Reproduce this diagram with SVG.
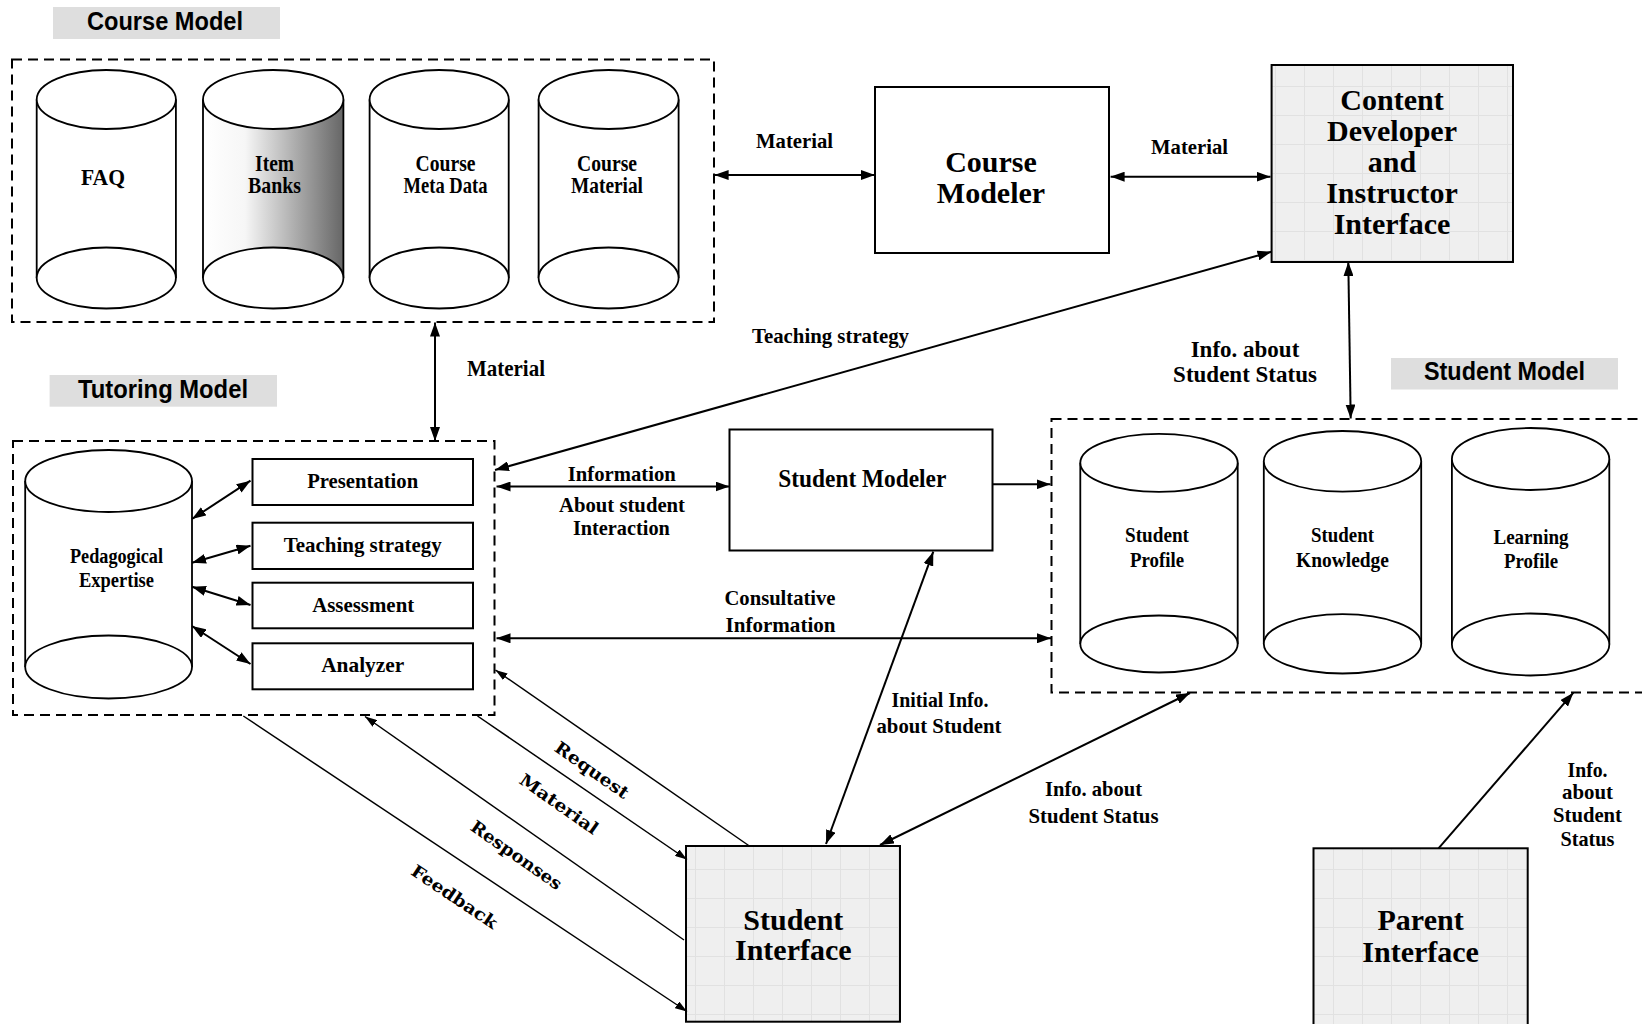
<svg xmlns="http://www.w3.org/2000/svg" width="1642" height="1024" viewBox="0 0 1642 1024">
<style>
.dash{fill:none;stroke:#000;stroke-width:2;stroke-dasharray:10 6}
.box{fill:#fff;stroke:#000;stroke-width:2}
.gbox{fill:url(#grid);stroke:#000;stroke-width:2}
.cyl{fill:#fff;stroke:#000;stroke-width:1.8}
.side{stroke:#000;stroke-width:1.8;fill:none}
.lbl{fill:#dedede}
.hd{font-family:"Liberation Sans",Arial,sans-serif;font-weight:bold;font-size:25px;text-anchor:middle;fill:#000}
.t{font-family:"Liberation Serif","Times New Roman",serif;font-weight:bold;text-anchor:middle;fill:#000}
.big{font-size:30px}
.m{font-size:22px}
.s{font-size:21px}
.conn line{stroke:#000;stroke-width:2;fill:none}
.conn line.thin{stroke-width:1.5}
.rot{font-family:"DejaVu Serif",serif;font-weight:bold;font-size:17px;text-anchor:middle;fill:#000}
</style>
<defs>
<marker id="ah" viewBox="0 0 14 10" refX="14" refY="5" markerWidth="14" markerHeight="10" markerUnits="userSpaceOnUse" orient="auto-start-reverse"><path d="M0,0 L14,5 L0,10 z" fill="#000"/></marker>
<marker id="as" viewBox="0 0 12 8" refX="12" refY="4" markerWidth="12" markerHeight="8" markerUnits="userSpaceOnUse" orient="auto-start-reverse"><path d="M0,0 L12,4 L0,8 z" fill="#000"/></marker>
<pattern id="grid" width="29" height="29" patternUnits="userSpaceOnUse"><rect width="29" height="29" fill="#efefef"/><path d="M28.5,0 V29 M0,28.5 H29" stroke="#e1e1e1" stroke-width="1" fill="none"/></pattern>
<linearGradient id="shade" x1="0" y1="0" x2="1" y2="0"><stop offset="0" stop-color="#ffffff"/><stop offset="0.3" stop-color="#f6f6f6"/><stop offset="1" stop-color="#666666"/></linearGradient>
</defs>
<rect width="1642" height="1024" fill="#fff"/>

<!-- Course Model -->
<g id="course-model">
<rect class="lbl" x="53" y="7" width="227" height="32"/>
<text class="hd" x="165" y="30" textLength="156" lengthAdjust="spacingAndGlyphs">Course Model</text>
<rect class="dash" x="12" y="59.5" width="702" height="262.5"/>
</g>
<g id="faq">
<rect x="36.7" y="99.5" width="139.2" height="178.5" fill="#fff"/>
<path class="side" d="M36.7,99.5 V278 M175.9,99.5 V278"/>
<ellipse class="cyl" cx="106.3" cy="99.5" rx="69.6" ry="29.5"/>
<ellipse class="cyl" cx="106.3" cy="278" rx="69.6" ry="30.5"/>
<text class="t" x="103" y="185" font-size="24" textLength="44" lengthAdjust="spacingAndGlyphs">FAQ</text>
</g>
<g id="item-banks">
<rect x="203" y="99.5" width="140.4" height="178.5" fill="url(#shade)"/>
<path class="side" d="M203,99.5 V278 M343.4,99.5 V278"/>
<ellipse class="cyl" cx="273.2" cy="99.5" rx="70.2" ry="29.5"/>
<ellipse class="cyl" cx="273.2" cy="278" rx="70.2" ry="30.5"/>
<text class="t" x="274.6" y="171" font-size="23" textLength="39" lengthAdjust="spacingAndGlyphs">Item</text>
<text class="t" x="274.6" y="193" font-size="23" textLength="53" lengthAdjust="spacingAndGlyphs">Banks</text>
</g>
<g id="course-meta-data">
<rect x="369.6" y="99.5" width="139.1" height="178.5" fill="#fff"/>
<path class="side" d="M369.6,99.5 V278 M508.7,99.5 V278"/>
<ellipse class="cyl" cx="439.2" cy="99.5" rx="69.6" ry="29.5"/>
<ellipse class="cyl" cx="439.2" cy="278" rx="69.6" ry="30.5"/>
<text class="t" x="445.5" y="171" font-size="23" textLength="60" lengthAdjust="spacingAndGlyphs">Course</text>
<text class="t" x="445.5" y="193" font-size="23" textLength="84" lengthAdjust="spacingAndGlyphs">Meta Data</text>
</g>
<g id="course-material">
<rect x="538.6" y="99.5" width="140" height="178.5" fill="#fff"/>
<path class="side" d="M538.6,99.5 V278 M678.6,99.5 V278"/>
<ellipse class="cyl" cx="608.6" cy="99.5" rx="70" ry="29.5"/>
<ellipse class="cyl" cx="608.6" cy="278" rx="70" ry="30.5"/>
<text class="t" x="607" y="171" font-size="23" textLength="60" lengthAdjust="spacingAndGlyphs">Course</text>
<text class="t" x="607" y="193" font-size="23" textLength="72" lengthAdjust="spacingAndGlyphs">Material</text>
</g>

<!-- Course Modeler -->
<g id="course-modeler">
<rect class="box" x="875" y="87" width="234" height="166"/>
<text class="t big" x="991" y="171.7">Course</text>
<text class="t big" x="991" y="203">Modeler</text>
</g>

<!-- Content Developer and Instructor Interface -->
<g id="content-developer">
<rect class="gbox" x="1271.6" y="65" width="241.4" height="197"/>
<text class="t big" x="1392" y="110">Content</text>
<text class="t big" x="1392" y="140.7">Developer</text>
<text class="t big" x="1392" y="171.7">and</text>
<text class="t big" x="1392" y="203">Instructor</text>
<text class="t big" x="1392" y="234">Interface</text>
</g>

<!-- Tutoring Model -->
<g id="tutoring-model">
<rect class="lbl" x="49.6" y="375" width="227.4" height="31.7"/>
<text class="hd" x="163" y="398" textLength="170" lengthAdjust="spacingAndGlyphs">Tutoring Model</text>
<rect class="dash" x="13" y="441" width="481.5" height="274"/>
</g>
<g id="pedagogical-expertise">
<rect x="25.2" y="481" width="166.8" height="186" fill="#fff"/>
<path class="side" d="M25.2,481 V667 M192,481 V667"/>
<ellipse class="cyl" cx="108.6" cy="481" rx="83.4" ry="31"/>
<ellipse class="cyl" cx="108.6" cy="667" rx="83.4" ry="31.5"/>
<text class="t" x="116.5" y="563.3" font-size="20" textLength="93" lengthAdjust="spacingAndGlyphs">Pedagogical</text>
<text class="t" x="116.5" y="586.7" font-size="20" textLength="75" lengthAdjust="spacingAndGlyphs">Expertise</text>
</g>
<g id="presentation">
<rect class="box" x="252.5" y="459" width="220.5" height="46"/>
<text class="t m" x="362.7" y="488.3" textLength="111" lengthAdjust="spacingAndGlyphs">Presentation</text>
</g>
<g id="teaching-strategy">
<rect class="box" x="252.5" y="522.7" width="220.5" height="46.3"/>
<text class="t m" x="362.7" y="551.7" textLength="158" lengthAdjust="spacingAndGlyphs">Teaching strategy</text>
</g>
<g id="assessment">
<rect class="box" x="252.5" y="582.7" width="220.5" height="45.6"/>
<text class="t m" x="363.2" y="611.7" textLength="102" lengthAdjust="spacingAndGlyphs">Assessment</text>
</g>
<g id="analyzer">
<rect class="box" x="252.5" y="643.3" width="220.5" height="46"/>
<text class="t m" x="362.7" y="671.7" textLength="83" lengthAdjust="spacingAndGlyphs">Analyzer</text>
</g>

<!-- Student Modeler -->
<g id="student-modeler">
<rect class="box" x="729.5" y="429.5" width="263" height="121"/>
<text class="t" x="862.3" y="487.3" font-size="26" textLength="168" lengthAdjust="spacingAndGlyphs">Student Modeler</text>
</g>

<!-- Student Model -->
<g id="student-model">
<rect class="lbl" x="1391" y="358" width="227" height="31.5"/>
<text class="hd" x="1504.5" y="380" textLength="161" lengthAdjust="spacingAndGlyphs">Student Model</text>
<rect class="dash" x="1051.5" y="419" width="640" height="273.5"/>
</g>
<g id="student-profile">
<rect x="1080.3" y="462.8" width="157.4" height="181.2" fill="#fff"/>
<path class="side" d="M1080.3,462.8 V644 M1237.7,462.8 V644"/>
<ellipse class="cyl" cx="1159" cy="462.8" rx="78.7" ry="29"/>
<ellipse class="cyl" cx="1159" cy="644" rx="78.7" ry="28.5"/>
<text class="t s" x="1157" y="541.7" textLength="64" lengthAdjust="spacingAndGlyphs">Student</text>
<text class="t s" x="1157" y="566.7" textLength="54" lengthAdjust="spacingAndGlyphs">Profile</text>
</g>
<g id="student-knowledge">
<rect x="1263.8" y="461.3" width="157.4" height="182.5" fill="#fff"/>
<path class="side" d="M1263.8,461.3 V643.8 M1421.2,461.3 V643.8"/>
<ellipse class="cyl" cx="1342.5" cy="461.3" rx="78.7" ry="30.3"/>
<ellipse class="cyl" cx="1342.5" cy="643.8" rx="78.7" ry="29.7"/>
<text class="t s" x="1342.5" y="541.7" textLength="63" lengthAdjust="spacingAndGlyphs">Student</text>
<text class="t s" x="1342.5" y="566.7" textLength="93" lengthAdjust="spacingAndGlyphs">Knowledge</text>
</g>
<g id="learning-profile">
<rect x="1451.9" y="459" width="157.4" height="185.5" fill="#fff"/>
<path class="side" d="M1451.9,459 V644.5 M1609.3,459 V644.5"/>
<ellipse class="cyl" cx="1530.6" cy="459" rx="78.7" ry="31"/>
<ellipse class="cyl" cx="1530.6" cy="644.5" rx="78.7" ry="31"/>
<text class="t s" x="1531" y="544" textLength="75" lengthAdjust="spacingAndGlyphs">Learning</text>
<text class="t s" x="1531" y="568" textLength="54" lengthAdjust="spacingAndGlyphs">Profile</text>
</g>

<!-- Student Interface -->
<g id="student-interface">
<rect class="gbox" x="686" y="846" width="214" height="175.7"/>
<text class="t big" x="793.3" y="930">Student</text>
<text class="t big" x="793.3" y="960">Interface</text>
</g>

<!-- Parent Interface -->
<g id="parent-interface">
<rect class="gbox" x="1313.5" y="848.3" width="214.2" height="190"/>
<text class="t big" x="1420.6" y="930">Parent</text>
<text class="t big" x="1420.6" y="961.7">Interface</text>
</g>

<!-- Connectors -->
<g id="connectors" class="conn">
<line x1="714.6" y1="175" x2="875" y2="175" marker-start="url(#ah)" marker-end="url(#ah)"/>
<line x1="1110.6" y1="176.7" x2="1270.5" y2="176.7" marker-start="url(#ah)" marker-end="url(#ah)"/>
<line x1="435" y1="322.5" x2="435" y2="441" marker-start="url(#ah)" marker-end="url(#ah)"/>
<line x1="495" y1="470" x2="1271.5" y2="251.7" marker-start="url(#ah)" marker-end="url(#ah)"/>
<line x1="1348.3" y1="262" x2="1350.7" y2="418.5" marker-start="url(#ah)" marker-end="url(#ah)"/>
<line x1="496.5" y1="486.5" x2="729.5" y2="486.5" marker-start="url(#ah)" marker-end="url(#ah)"/>
<line x1="992.5" y1="484.3" x2="1050.5" y2="484.3" marker-end="url(#ah)"/>
<line x1="496.5" y1="638.3" x2="1051" y2="638.3" marker-start="url(#ah)" marker-end="url(#ah)"/>
<line x1="933.3" y1="551.7" x2="826" y2="844" marker-start="url(#ah)" marker-end="url(#ah)"/>
<line x1="880" y1="845" x2="1190" y2="693" marker-start="url(#ah)" marker-end="url(#ah)"/>
<line x1="1438.5" y1="848.3" x2="1573.4" y2="692.7" marker-end="url(#ah)"/>
<line x1="192" y1="519" x2="250.5" y2="480.7" marker-start="url(#ah)" marker-end="url(#ah)"/>
<line x1="192" y1="562.7" x2="250.5" y2="545.7" marker-start="url(#ah)" marker-end="url(#ah)"/>
<line x1="192" y1="586.7" x2="250.5" y2="605" marker-start="url(#ah)" marker-end="url(#ah)"/>
<line x1="192" y1="626" x2="250.5" y2="664" marker-start="url(#ah)" marker-end="url(#ah)"/>
<line class="thin" x1="749.4" y1="846" x2="495.5" y2="670" marker-end="url(#as)"/>
<line class="thin" x1="477.5" y1="716" x2="687" y2="859.5" marker-end="url(#as)"/>
<line class="thin" x1="684" y1="940" x2="365" y2="716.5" marker-end="url(#as)"/>
<line class="thin" x1="243.3" y1="716" x2="687" y2="1011.5" marker-end="url(#as)"/>
</g>

<!-- Connector labels -->
<g id="connector-labels">
<text class="t m" x="794.5" y="148" textLength="77" lengthAdjust="spacingAndGlyphs">Material</text>
<text class="t m" x="1189.5" y="154" textLength="77" lengthAdjust="spacingAndGlyphs">Material</text>
<text class="t" x="506" y="376" font-size="23" textLength="78" lengthAdjust="spacingAndGlyphs">Material</text>
<text class="t s" x="830.5" y="343" textLength="157" lengthAdjust="spacingAndGlyphs">Teaching strategy</text>
<text class="t" x="1245" y="356.7" font-size="23">Info. about</text>
<text class="t" x="1245" y="381.7" font-size="23">Student Status</text>
<text class="t m" x="621.8" y="480.7" textLength="108" lengthAdjust="spacingAndGlyphs">Information</text>
<text class="t m" x="622" y="511.7" textLength="126" lengthAdjust="spacingAndGlyphs">About student</text>
<text class="t m" x="621.4" y="535" textLength="97" lengthAdjust="spacingAndGlyphs">Interaction</text>
<text class="t m" x="780" y="605" textLength="111" lengthAdjust="spacingAndGlyphs">Consultative</text>
<text class="t m" x="780.5" y="631.7" textLength="110" lengthAdjust="spacingAndGlyphs">Information</text>
<text class="t m" x="940" y="706.7" textLength="97" lengthAdjust="spacingAndGlyphs">Initial Info.</text>
<text class="t m" x="939" y="733.3" textLength="125" lengthAdjust="spacingAndGlyphs">about Student</text>
<text class="t m" x="1093.5" y="796" textLength="97" lengthAdjust="spacingAndGlyphs">Info. about</text>
<text class="t m" x="1093.5" y="822.7" textLength="130" lengthAdjust="spacingAndGlyphs">Student Status</text>
<text class="t s" x="1587.5" y="776.7" textLength="40" lengthAdjust="spacingAndGlyphs">Info.</text>
<text class="t s" x="1587.5" y="799.3" textLength="51" lengthAdjust="spacingAndGlyphs">about</text>
<text class="t s" x="1587.5" y="821.7" textLength="69" lengthAdjust="spacingAndGlyphs">Student</text>
<text class="t s" x="1587.5" y="845.7" textLength="54" lengthAdjust="spacingAndGlyphs">Status</text>
<text class="rot" transform="translate(592,770) rotate(35)" y="6" textLength="86" lengthAdjust="spacingAndGlyphs">Request</text>
<text class="rot" transform="translate(559,804) rotate(35)" y="6" textLength="92" lengthAdjust="spacingAndGlyphs">Material</text>
<text class="rot" transform="translate(516.5,855) rotate(35)" y="6" textLength="107" lengthAdjust="spacingAndGlyphs">Responses</text>
<text class="rot" transform="translate(454.5,896.7) rotate(34)" y="6" textLength="100" lengthAdjust="spacingAndGlyphs">Feedback</text>
</g>
</svg>
